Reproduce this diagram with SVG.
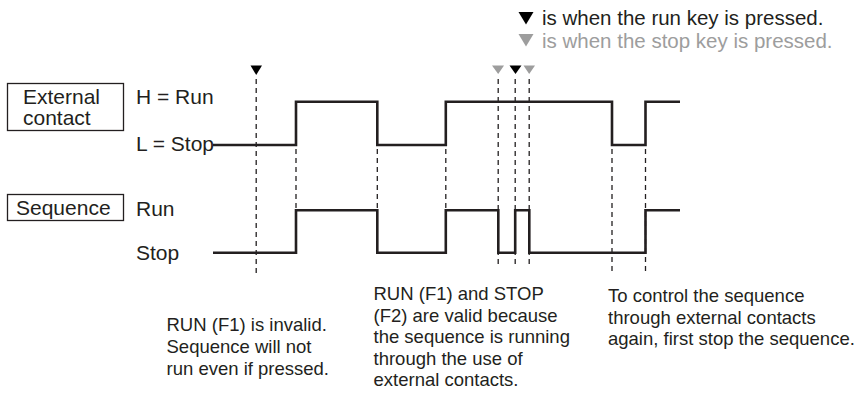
<svg xmlns="http://www.w3.org/2000/svg" width="858" height="398" viewBox="0 0 858 398">
<style>
text{font-family:"Liberation Sans",Arial,sans-serif;fill:#231f20}
.lbl{font-size:21px}
.leg{font-size:20.5px}
.note{font-size:18.5px}
.grey{fill:#9d9d9d}
.box{fill:#fff;stroke:#231f20;stroke-width:1.3}
.wave{fill:none;stroke:#231f20;stroke-width:2.6;stroke-linejoin:miter}
.dash{fill:none;stroke:#231f20;stroke-width:1.3;stroke-dasharray:5,4}
.tri{fill:#000}
.trig{fill:#9d9d9d}
</style>
<rect width="858" height="398" fill="#fff"/>
<g id="legend">
<polygon class="tri" points="518.5,12 533.5,12 526,24.5"/>
<text class="leg" x="542" y="25">is when the run key is pressed.</text>
<polygon class="trig" points="518.5,34 533.5,34 526,46.5"/>
<text class="leg grey" x="542" y="47.5">is when the stop key is pressed.</text>
</g>
<g id="external-contact">
<rect class="box" x="7.5" y="83.5" width="116" height="47"/>
<text class="lbl" x="23" y="104">External</text>
<text class="lbl" x="23" y="125">contact</text>
<text class="lbl" x="136" y="104">H = Run</text>
<text class="lbl" x="136" y="151">L = Stop</text>
</g>
<g id="sequence">
<rect class="box" x="7.5" y="194.5" width="116" height="26"/>
<text class="lbl" x="16" y="214.5">Sequence</text>
<text class="lbl" x="136" y="216">Run</text>
<text class="lbl" x="136" y="259.5">Stop</text>
</g>
<g id="markers">
<polygon class="tri" points="250.5,65.5 262,65.5 256.2,75"/>
<polygon class="trig" points="492,65.5 504,65.5 498.2,74"/>
<polygon class="tri" points="509.5,65.5 521.5,65.5 515.5,74"/>
<polygon class="trig" points="523.5,65.5 535,65.5 529.2,74"/>
</g>
<g id="connectors">
<line class="dash" x1="256.2" y1="79" x2="256.2" y2="276"/>
<line class="dash" x1="498.2" y1="79" x2="498.2" y2="264"/>
<line class="dash" x1="515.2" y1="79" x2="515.2" y2="264"/>
<line class="dash" x1="529.2" y1="79" x2="529.2" y2="264"/>
<line class="dash" x1="296" y1="149" x2="296" y2="209"/>
<line class="dash" x1="377.3" y1="149" x2="377.3" y2="209"/>
<line class="dash" x1="445.8" y1="149" x2="445.8" y2="209"/>
<line class="dash" x1="612" y1="149" x2="612" y2="271"/>
<line class="dash" x1="645.5" y1="149" x2="645.5" y2="271"/>
</g>
<g id="waveforms">
<polyline id="wave-external" class="wave" points="213,145 296,145 296,101.7 377.3,101.7 377.3,145 445.8,145 445.8,101.7 612,101.7 612,145 645.5,145 645.5,101.7 680,101.7"/>
<polyline id="wave-sequence" class="wave" points="213,252.7 296,252.7 296,210.3 377.3,210.3 377.3,252.7 445.8,252.7 445.8,210.3 498.3,210.3 498.3,252.7 515.2,252.7 515.2,210.3 529.3,210.3 529.3,252.7 645.5,252.7 645.5,210.3 680,210.3"/>
</g>
<g id="note-left">
<text class="note" x="166.5" y="331">RUN (F1) is invalid.</text>
<text class="note" x="166.5" y="353">Sequence will not</text>
<text class="note" x="166.5" y="375">run even if pressed.</text>
</g>
<g id="note-middle">
<text class="note" x="373.5" y="300">RUN (F1) and STOP</text>
<text class="note" x="373.5" y="321.5">(F2) are valid because</text>
<text class="note" x="373.5" y="343">the sequence is running</text>
<text class="note" x="373.5" y="364.5">through the use of</text>
<text class="note" x="373.5" y="386">external contacts.</text>
</g>
<g id="note-right">
<text class="note" x="608" y="302">To control the sequence</text>
<text class="note" x="608" y="323.5">through external contacts</text>
<text class="note" x="608" y="345">again, first stop the sequence.</text>
</g>
</svg>
